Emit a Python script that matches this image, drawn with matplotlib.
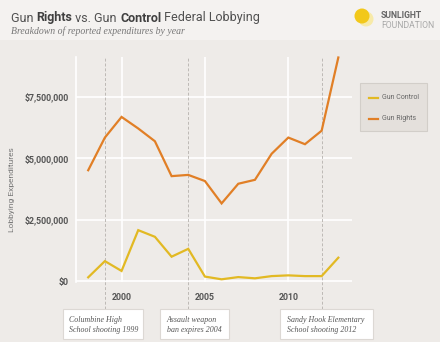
"""Gun rights vs. gun control federal lobbying, 1998-2013."""

import matplotlib.pyplot as plt
from matplotlib.patches import Rectangle, Ellipse
from matplotlib.lines import Line2D
from matplotlib.ticker import FuncFormatter

years = list(range(1998, 2014))
gun_rights = [4.51, 5.84, 6.68, 6.21, 5.69, 4.27, 4.32, 4.07, 3.16, 3.96,
              4.12, 5.18, 5.84, 5.57, 6.12, 9.10]
gun_control = [0.15, 0.81, 0.41, 2.07, 1.80, 0.99, 1.31, 0.18, 0.07, 0.16,
               0.11, 0.20, 0.23, 0.20, 0.20, 0.95]
y_ticks = [0, 2.5, 5.0, 7.5]
x_ticks = [2000, 2005, 2010]
event_years = [1999, 2004, 2012]
event_text = [("Columbine High", "School shooting 1999"),
              ("Assault weapon", "ban expires 2004"),
              ("Sandy Hook Elementary", "School shooting 2012")]

W, H = 440, 342
BG = "#eeebe8"
HEADER = "#f4f2f0"
ORANGE = "#e17f26"
YELLOW = "#e2b923"
SANS = "Roboto"
SERIF = "Liberation Serif"


def fx(px):
    return px / W


def fy(py):
    return 1 - py / H


fig = plt.figure(figsize=(4.4, 3.42), dpi=100, facecolor=BG)
fig.patches.append(Rectangle((0, fy(40)), 1, 40 / H, transform=fig.transFigure,
                             facecolor=HEADER, edgecolor="none", zorder=0))

# header title, bold words set inline
title_parts = [("Gun ", "normal"), ("Rights", "bold"), (" vs. Gun ", "normal"),
               ("Control", "bold"), (" Federal Lobbying", "normal")]
renderer = fig.canvas.get_renderer()
x = fx(11)
for part, weight in title_parts:
    t = fig.text(x, fy(21.5), part, fontsize=9, family=SANS, weight=weight,
                 color="#505050" if weight == "normal" else "#404040")
    x += t.get_window_extent(renderer=renderer).width / W
fig.text(fx(11), fy(33.5), "Breakdown of reported expenditures by year",
         fontsize=7, family=SERIF, style="italic", color="#777777")

# logo
fig.patches.append(Ellipse((fx(366), fy(19)), 15 / W, 15 / H, transform=fig.transFigure,
                           facecolor="#f7eaa8", edgecolor="none"))
fig.patches.append(Ellipse((fx(362), fy(16)), 15 / W, 15 / H, transform=fig.transFigure,
                           facecolor="#f2c81a", edgecolor="none"))
fig.text(fx(381), fy(18), "SUNLIGHT", fontsize=6.2, family=SANS, weight="bold",
         color="#666666")
fig.text(fx(381), fy(28), "FOUNDATION", fontsize=6.2, family=SANS,
         color="#a8a8a8")

# main axes
ax = fig.add_axes([fx(75.7), fy(282), (352 - 75.7) / W, (282 - 57) / H])
ax.set_facecolor(BG)
ax.set_xlim(1997.25, 2013.82)
ax.set_ylim(-0.04, 9.12)
for s in ["top", "right", "bottom"]:
    ax.spines[s].set_visible(False)
ax.spines["left"].set_color("white")
ax.spines["left"].set_linewidth(1.2)

for v in y_ticks:
    ax.axhline(v, color="white", lw=1.2, zorder=1)
for v in x_ticks:
    ax.axvline(v, color="white", lw=1.2, zorder=1)

box_top = (282 - 309) / (282 - 57)
for yr in event_years:
    ax.axvline(yr, ymin=box_top, ymax=1, color="#bdb9b5", lw=0.7,
               ls=(0, (3, 2)), clip_on=False, zorder=2)

ax.plot(years, gun_control, color=YELLOW, lw=1.6, zorder=3, clip_on=False,
        solid_joinstyle="miter")
ax.plot(years, gun_rights, color=ORANGE, lw=1.6, zorder=3, clip_on=False,
        solid_joinstyle="miter")

ax.set_yticks(y_ticks)
ax.yaxis.set_major_formatter(FuncFormatter(
    lambda v, _: "$0" if v == 0 else "${:,.0f}".format(v * 1e6)))
ax.set_xticks(x_ticks)
ax.tick_params(length=0, labelsize=6.3, labelcolor="#555555")
ax.tick_params(axis="y", pad=5)
ax.tick_params(axis="x", pad=8)
for lab in ax.get_xticklabels() + ax.get_yticklabels():
    lab.set_fontweight("bold")
    lab.set_family(SANS)

fig.text(fx(12), fy(190), "Lobbying Expenditures", rotation=90, ha="center",
         va="center", fontsize=6, family=SANS, color="#777777")

# legend
fig.patches.append(Rectangle((fx(360), fy(131)), 67 / W, 48 / H, transform=fig.transFigure,
                             facecolor="#e4e0dc", edgecolor="#d2cec9", lw=0.8))
for yy, col, lab in [(98, YELLOW, "Gun Control"), (119, ORANGE, "Gun Rights")]:
    fig.lines.append(Line2D([fx(369), fx(378)], [fy(yy), fy(yy)], color=col, lw=1.6,
                            transform=fig.transFigure))
    fig.text(fx(382), fy(yy), lab, fontsize=5, family=SANS, color="#666666",
             va="center")

# event boxes
boxes = [(62.7, 142.7), (160, 228.7), (280, 372.7)]
for (x0, x1), (l1, l2) in zip(boxes, event_text):
    fig.patches.append(Rectangle((fx(x0), fy(339)), (x1 - x0) / W, 30 / H,
                                 transform=fig.transFigure, facecolor="white",
                                 edgecolor="#dcd8d4", lw=0.8))
    fig.text(fx(x0 + 6.5), fy(320.5), l1, fontsize=5.7, family=SERIF, style="italic",
             color="#555555", va="center")
    fig.text(fx(x0 + 6.5), fy(330), l2, fontsize=5.7, family=SERIF, style="italic",
             color="#555555", va="center")

fig.savefig("out.png", dpi=100, facecolor=BG)
